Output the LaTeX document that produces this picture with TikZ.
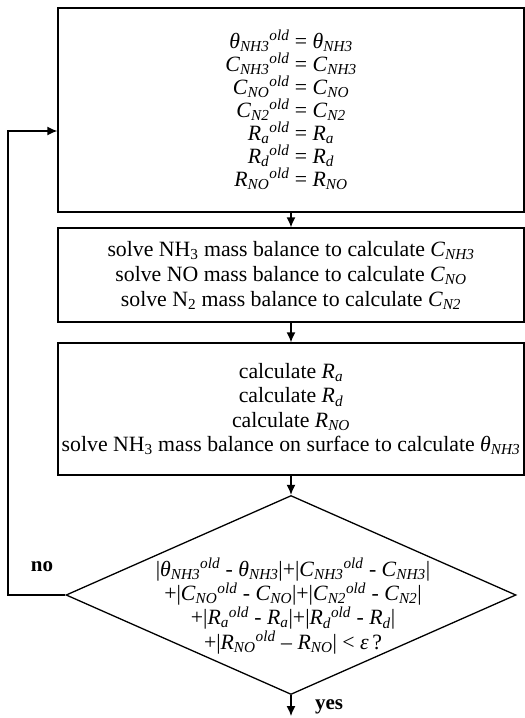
\documentclass[tikz,border=0pt]{standalone}
\usepackage{fontspec}
\setmainfont{Liberation Serif}
\usepackage{tikz}
\usetikzlibrary{shapes.geometric, arrows.meta, calc}

\newcommand{\vo}[2]{\textit{#1}\textsubscript{\textit{#2}}\textsuperscript{\textit{old}}}
\newcommand{\vn}[2]{\textit{#1}\textsubscript{\textit{#2}}}

\begin{document}
\begin{tikzpicture}[
    x=1pt, y=-1pt,
    font=\fontsize{21.8}{23}\selectfont,
    stepbox/.style={draw, rectangle, line width=1.3pt, minimum width=466pt, align=center, inner sep=0pt},
    test/.style={draw, diamond, line width=1.3pt, minimum width=450pt, minimum height=199pt, inner sep=0pt},
    flow/.style={-{Latex[length=10pt,width=9pt]},line width=1.3pt},
    tag/.style={font=\fontsize{21}{22}\selectfont\bfseries}
]
\useasboundingbox (0,0) rectangle (525,718);

\node[stepbox, minimum height=204pt] (store) at (291,110) {%
  \vo{θ}{NH3} = \vn{θ}{NH3}\\
  \vo{C}{NH3} = \vn{C}{NH3}\\
  \vo{C}{NO} = \vn{C}{NO}\\
  \vo{C}{N2} = \vn{C}{N2}\\
  \vo{R}{a} = \vn{R}{a}\\
  \vo{R}{d} = \vn{R}{d}\\
  \vo{R}{NO} = \vn{R}{NO}};
\node[stepbox, minimum height=94pt, font=\fontsize{21.8}{25}\selectfont] (gas) at (291,275) {%
  solve NH\textsubscript{3} mass balance to calculate \vn{C}{NH3}\\
  solve NO mass balance to calculate \vn{C}{NO}\\
  solve N\textsubscript{2} mass balance to calculate \vn{C}{N2}};
\node[stepbox, minimum height=132pt, font=\fontsize{21.8}{24.3}\selectfont] (surf) at (291,409) {%
  calculate \vn{R}{a}\\
  calculate \vn{R}{d}\\
  calculate \vn{R}{NO}\\
  solve NH\textsubscript{3} mass balance on surface to calculate \vn{θ}{NH3}};
\node[test] (conv) at (291,595) {};
\node[align=center, font=\fontsize{21.8}{24.3}\selectfont] (convtext) at (293,606) {%
  |\vo{θ}{NH3} - \vn{θ}{NH3}|+|\vo{C}{NH3} - \vn{C}{NH3}|\\
  +|\vo{C}{NO} - \vn{C}{NO}|+|\vo{C}{N2} - \vn{C}{N2}|\\
  +|\vo{R}{a} - \vn{R}{a}|+|\vo{R}{d} - \vn{R}{d}|\\
  +|\vo{R}{NO} – \vn{R}{NO}| < \textit{ε}\,?};

\coordinate (back) at (8,595);
\coordinate (done) at (291,716);

\draw[flow] (store) -- (gas);
\draw[flow] (gas) -- (surf);
\draw[flow] (surf) -- (conv);
\draw[flow] (conv.west) -- (back) |- ($(store.west)+(0,21)$);
\draw[flow] (conv.south) -- (done);

\node[tag] (no) at (42,567) {no};
\node[tag] (yes) at (329,707) {yes};

\end{tikzpicture}
\end{document}
